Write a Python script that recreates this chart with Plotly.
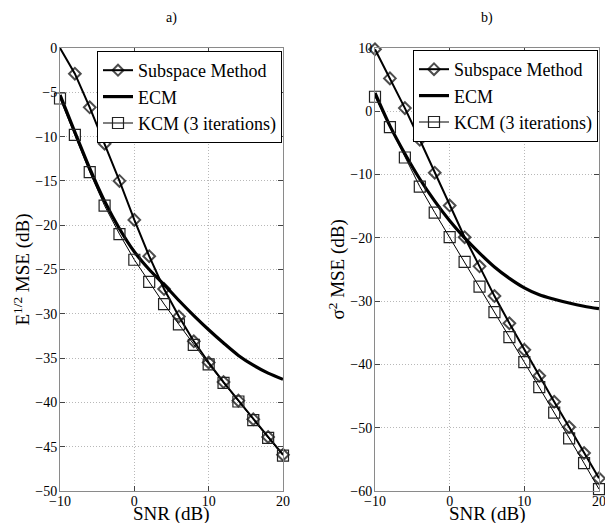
import plotly.graph_objects as go

# ---------------- data ----------------
snr = [-10, -8, -6, -4, -2, 0, 2, 4, 6, 8, 10, 12, 14, 16, 18, 20]

# panel a) E^{1/2} MSE (dB)
sub_a = [0.0, -2.9, -6.7, -10.8, -15.0, -19.4, -23.5, -27.2, -30.3, -33.1, -35.5, -37.7, -39.8, -41.9, -43.9, -45.9]
ecm_a = [-5.3, -9.5, -13.6, -17.3, -20.4, -23.0, -25.0, -26.7, -28.5, -30.2, -31.8, -33.3, -34.7, -35.8, -36.7, -37.4]
kcm_a = [-5.7, -9.8, -14.0, -17.8, -21.0, -23.9, -26.4, -28.9, -31.2, -33.5, -35.7, -37.8, -39.9, -42.0, -44.0, -46.0]

# panel b) sigma^2 MSE (dB)
sub_b = [9.8, 5.2, 0.5, -4.5, -9.7, -14.9, -19.9, -24.5, -29.2, -33.5, -37.7, -41.8, -45.9, -49.9, -54.0, -58.0]
ecm_b = [2.9, -2.3, -6.7, -10.7, -14.2, -17.3, -20.0, -22.4, -24.6, -26.4, -27.9, -29.0, -29.7, -30.3, -30.8, -31.2]
kcm_b = [2.3, -2.5, -7.3, -11.9, -16.0, -19.9, -23.8, -27.7, -31.75, -35.7, -39.65, -43.6, -47.6, -51.7, -55.6, -59.7]

names = ["Subspace Method", "ECM", "KCM (3 iterations)"]
panel_titles = ["a)", "b)"]
xlabel = "SNR (dB)"
ylabels = ["E<sup>1/2</sup> MSE (dB)", "σ<sup>2</sup> MSE (dB)"]
x_ticks = [-10, 0, 10, 20]

# ---------------- figure ----------------
W, H = 605, 523
FONT = "Liberation Serif"

fig = go.Figure()

panels = [
    (sub_a, ecm_a, kcm_a, "x", "y", "legend"),
    (sub_b, ecm_b, kcm_b, "x2", "y2", "legend2"),
]
for i, (sub, ecm, kcm, xa, ya, lg) in enumerate(panels):
    sub_sizes = [9] * len(snr)
    if i == 0:
        sub_sizes[0] = 0  # corner point hidden (clipped in original)
    fig.add_trace(go.Scatter(
        x=snr, y=sub, name=names[0], xaxis=xa, yaxis=ya, legend=lg,
        mode="lines+markers", cliponaxis=False,
        line=dict(color="black", width=2),
        marker=dict(symbol="diamond-open", size=sub_sizes, color="black",
                    line=dict(width=2, color="black")),
    ))
    fig.add_trace(go.Scatter(
        x=snr, y=ecm, name=names[1], xaxis=xa, yaxis=ya, legend=lg,
        mode="lines", cliponaxis=False,
        line=dict(color="black", width=3.2, shape="spline", smoothing=0.8),
    ))
    fig.add_trace(go.Scatter(
        x=snr, y=kcm, name=names[2], xaxis=xa, yaxis=ya, legend=lg,
        mode="lines+markers", cliponaxis=False,
        line=dict(color="black", width=1),
        marker=dict(symbol="square-open", size=11, color="#222",
                    line=dict(width=1.2, color="#222")),
    ))

# plot-area pixel boxes
boxes = [(60, 283, 48, 491), (375, 599, 48, 491)]
yranges = [(-50, 0, 5), (-60, 10, 10)]

axis_common = dict(
    showline=True, linecolor="#8a8a8a", linewidth=1, mirror="allticks",
    ticks="inside", ticklen=5, tickcolor="#444", tickwidth=1,
    showgrid=True, gridcolor="#b8b8b8", griddash="1px,2px", gridwidth=1,
    zeroline=False, automargin=False, ticklabeloverflow="allow",
    tickfont=dict(family=FONT, size=14, color="black"),
)

for i, (x0, x1, y0, y1) in enumerate(boxes):
    sfx = "" if i == 0 else "2"
    ymin, ymax, dy = yranges[i]
    fig.update_layout(**{
        f"xaxis{sfx}": dict(axis_common, domain=[x0 / W, x1 / W], range=[-10, 20],
                            tickvals=x_ticks, anchor=f"y{sfx}", ticklabelstandoff=-3),
        f"yaxis{sfx}": dict(axis_common, domain=[1 - y1 / H, 1 - y0 / H],
                            range=[ymin, ymax], dtick=dy, tick0=0, anchor=f"x{sfx}",
                            ticklabelstandoff=-1),
    })

legend_common = dict(
    bgcolor="white", bordercolor="black", borderwidth=1,
    font=dict(family=FONT, size=18, color="black"),
    xanchor="right", yanchor="top", tracegroupgap=0,
    itemsizing="trace", itemwidth=30,
)
fig.update_layout(
    legend=dict(legend_common, x=282 / W, y=1 - 51 / H),
    legend2=dict(legend_common, x=598 / W, y=1 - 50 / H),
)

annotations = []
for i, (x0, x1, y0, y1) in enumerate(boxes):
    cx = (x0 + x1) / 2
    annotations.append(dict(
        text=panel_titles[i], x=cx / W, y=1 - 18 / H, xref="paper", yref="paper",
        showarrow=False, font=dict(family=FONT, size=14, color="black"),
        xanchor="center", yanchor="middle"))
    annotations.append(dict(
        text=xlabel, x=cx / W, y=1 - 514 / H, xref="paper", yref="paper",
        showarrow=False, font=dict(family=FONT, size=19, color="black"),
        xanchor="center", yanchor="middle"))
ylab_x = [22, 337]
for i, (x0, x1, y0, y1) in enumerate(boxes):
    annotations.append(dict(
        text=ylabels[i], x=ylab_x[i] / W, y=1 - ((y0 + y1) / 2) / H,
        xref="paper", yref="paper", textangle=-90,
        showarrow=False, font=dict(family=FONT, size=19, color="black"),
        xanchor="center", yanchor="middle"))

fig.update_layout(
    width=W, height=H,
    margin=dict(l=0, r=0, t=0, b=0, autoexpand=False),
    paper_bgcolor="white", plot_bgcolor="white",
    showlegend=True,
    annotations=annotations,
)

fig.write_html("out.html", config={"displayModeBar": False},
               post_script="document.body.style.margin='0';document.body.style.padding='0';")
